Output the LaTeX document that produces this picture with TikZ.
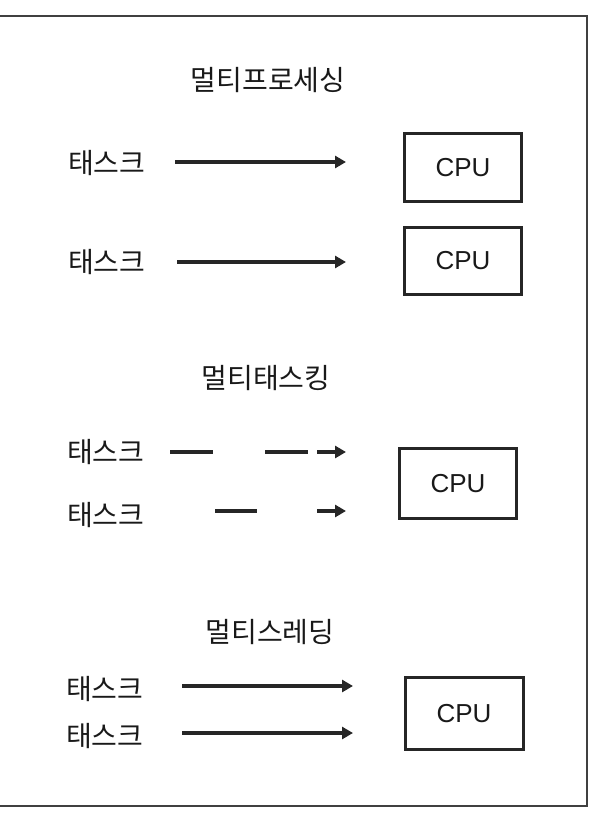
\documentclass[tikz,border=0pt]{standalone}
\usepackage{fontspec}
\setmainfont{Liberation Sans}
\newfontfamily\krfont{Noto Sans CJK KR}
\usetikzlibrary{arrows.meta}
\begin{document}
\begin{tikzpicture}[x=1pt,y=-1pt,
  lbl/.style={font=\krfont\fontsize{28}{28}\selectfont, text=black!90, inner sep=0pt},
  cpubox/.style={draw=black!85, line width=3pt, inner sep=0pt, font=\fontsize{26}{26}\selectfont, text=black!90},
  flow/.style={line width=3.5pt, draw=black!85, -{Triangle[length=11pt,width=12pt]}},
  seg/.style={line width=3.5pt, draw=black!85},
  frameline/.style={draw=black!75, line width=2pt}]
\useasboundingbox (0,0) rectangle (590,813);
% frame
\coordinate (fa) at (0,16);
\coordinate (fb) at (587,16);
\coordinate (fc) at (587,806);
\coordinate (fd) at (0,806);
\draw[frameline] (fa) -- (fb) -- (fc) -- (fd);

% multiprocessing
\node[lbl] (title1) at (268,80) {멀티프로세싱};
\node[lbl, anchor=west] (t1) at (68,163) {태스크};
\node[lbl, anchor=west] (t2) at (68,262) {태스크};
\coordinate (a1s) at (175,162);
\coordinate (a1e) at (346,162);
\coordinate (a2s) at (177,262);
\coordinate (a2e) at (346,262);
\draw[flow] (a1s) -- (a1e);
\draw[flow] (a2s) -- (a2e);
\node[cpubox, minimum width=117pt, minimum height=68pt] (cpu1) at (463,167.5) {CPU};
\node[cpubox, minimum width=117pt, minimum height=67pt] (cpu2) at (463,261) {CPU};

% multitasking
\node[lbl] (title2) at (266,378) {멀티태스킹};
\node[lbl, anchor=west] (t3) at (67,452) {태스크};
\node[lbl, anchor=west] (t4) at (67,515) {태스크};
\coordinate (d1s) at (170,452);
\coordinate (d1e) at (213,452);
\coordinate (d2s) at (265,452);
\coordinate (d2e) at (308,452);
\coordinate (d3s) at (317,452);
\coordinate (d3e) at (346,452);
\coordinate (d4s) at (215,511);
\coordinate (d4e) at (257,511);
\coordinate (d5s) at (317,511);
\coordinate (d5e) at (346,511);
\draw[seg] (d1s) -- (d1e);
\draw[seg] (d2s) -- (d2e);
\draw[flow] (d3s) -- (d3e);
\draw[seg] (d4s) -- (d4e);
\draw[flow] (d5s) -- (d5e);
\node[cpubox, minimum width=117pt, minimum height=70pt] (cpu3) at (458,483.5) {CPU};

% multithreading
\node[lbl] (title3) at (270,632) {멀티스레딩};
\node[lbl, anchor=west] (t5) at (66,689) {태스크};
\node[lbl, anchor=west] (t6) at (66,736) {태스크};
\coordinate (a5s) at (182,686);
\coordinate (a5e) at (353,686);
\coordinate (a6s) at (182,733);
\coordinate (a6e) at (353,733);
\draw[flow] (a5s) -- (a5e);
\draw[flow] (a6s) -- (a6e);
\node[cpubox, minimum width=118pt, minimum height=72pt] (cpu4) at (464,713.5) {CPU};
\end{tikzpicture}
\end{document}
